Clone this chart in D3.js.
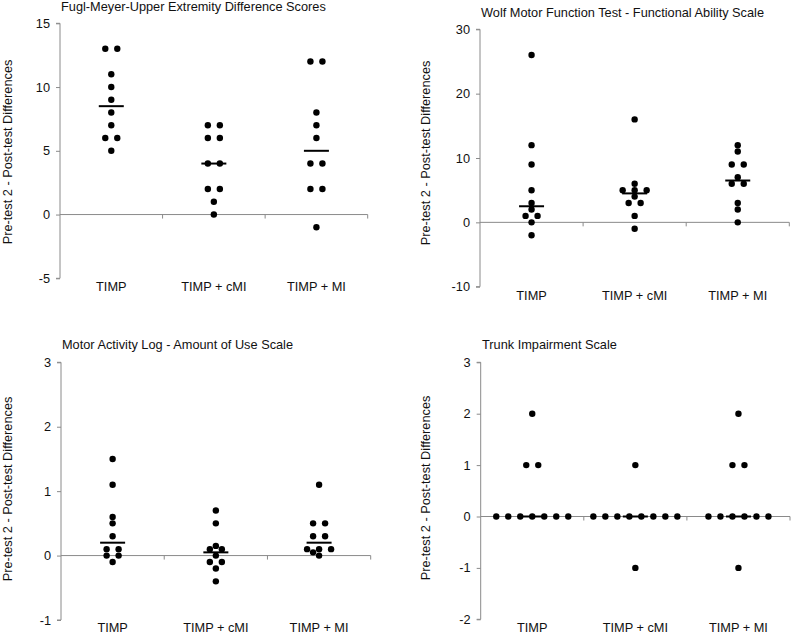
<!DOCTYPE html>
<html>
<head>
<meta charset="utf-8">
<script src="https://cdn.jsdelivr.net/npm/d3@7"></script>
<style>
  html, body { margin: 0; padding: 0; background: #fff; }
  svg { display: block; }
  text { font-family: "Liberation Sans", Arial, sans-serif; fill: #111; }
</style>
</head>
<body>
<svg id="chart" width="791" height="634"></svg>
<script>
// ---- Data ----
const groups = ["TIMP", "TIMP + cMI", "TIMP + MI"];
const yLabel = "Pre-test 2 - Post-test Differences";

const titles = [
  "Fugl-Meyer-Upper Extremity Difference Scores",
  "Wolf Motor Function Test - Functional Ability Scale",
  "Motor Activity Log - Amount of Use Scale",
  "Trunk Impairment Scale"
];

// Fugl-Meyer
const fmTIMP = [13, 13, 11, 10, 9, 8, 7, 6, 6, 5];
const fmCMI  = [7, 7, 6, 6, 4, 4, 2, 2, 1, 0];
const fmMI   = [12, 12, 8, 7, 6, 4, 4, 2, 2, -1];
const fmTicks = [-5, 0, 5, 10, 15];

// Wolf Motor Function Test
const wmTIMP = [26, 12, 9, 5, 3, 2, 1, 1, 0, -2];
const wmCMI  = [16, 6, 5, 5, 5, 4, 3, 3, 1, -1];
const wmMI   = [12, 11, 9, 9, 7, 6, 6, 3, 2, 0];
const wmTicks = [-10, 0, 10, 20, 30];

// Motor Activity Log
const malTIMP = [1.5, 1.1, 0.6, 0.5, 0.3, 0.1, 0.1, 0, 0, -0.1];
const malCMI  = [0.7, 0.5, 0.15, 0.1, 0.1, 0, -0.1, -0.1, -0.2, -0.4];
const malMI   = [1.1, 0.5, 0.5, 0.3, 0.3, 0.1, 0.1, 0.1, 0.05, 0];
const malTicks = [-1, 0, 1, 2, 3];

// Trunk Impairment Scale
const tisTIMP = [2, 1, 1, 0, 0, 0, 0, 0, 0, 0];
const tisCMI  = [1, 0, 0, 0, 0, 0, 0, 0, 0, -1];
const tisMI   = [2, 1, 1, 0, 0, 0, 0, 0, 0, -1];
const tisTicks = [-2, -1, 0, 1, 2, 3];

// ---- Layout (positions only) ----
const FS = 12.75;
const panels = [
  { title: titles[0], series: [fmTIMP, fmCMI, fmMI], ticks: fmTicks,
    x0: 60, x1: 367.7, yTop: 23.3, yBot: 278.3,
    titleX: 61, titleY: 10.5, catY: 291, labX: 7, labY: 152 },
  { title: titles[1], series: [wmTIMP, wmCMI, wmMI], ticks: wmTicks,
    x0: 480, x1: 789.3, yTop: 29.3, yBot: 286.7,
    titleX: 481, titleY: 17, catY: 299.5, labX: 425, labY: 153 },
  { title: titles[2], series: [malTIMP, malCMI, malMI], ticks: malTicks,
    x0: 61, x1: 370.7, yTop: 362.3, yBot: 620,
    titleX: 62, titleY: 349, catY: 631.5, labX: 7, labY: 489 },
  { title: titles[3], series: [tisTIMP, tisCMI, tisMI], ticks: tisTicks,
    x0: 480.7, x1: 790, yTop: 362.3, yBot: 619.3,
    titleX: 482, titleY: 349, catY: 631.5, labX: 425, labY: 488 }
];

const svg = d3.select("#chart");
const axisColor = "#8a8a8a";
const R = 3.2, SP = 12;

panels.forEach(p => {
  const g = svg.append("g");
  const ext = d3.extent(p.ticks);
  const y = d3.scaleLinear().domain(ext).range([p.yBot, p.yTop]);
  const x = d3.scaleBand().domain(groups).range([p.x0, p.x1]).padding(0);

  // Title
  g.append("text").attr("x", p.titleX).attr("y", p.titleY)
    .attr("font-size", FS).text(p.title);

  // Y label
  g.append("text")
    .attr("transform", `translate(${p.labX},${p.labY}) rotate(-90)`)
    .attr("text-anchor", "middle").attr("dominant-baseline", "central")
    .attr("font-size", FS).text(yLabel);

  // Y axis
  const yAxis = d3.axisLeft(y).tickValues(p.ticks).tickSize(4).tickPadding(6)
    .tickFormat(d => String(d));
  const ya = g.append("g").attr("transform", `translate(${p.x0},0)`).call(yAxis);
  ya.select(".domain").attr("stroke", axisColor).attr("d", `M-4,${y(ext[0])}H0V${y(ext[1])}H-4`);
  ya.selectAll(".tick line").attr("stroke", axisColor);
  ya.selectAll(".tick text").attr("font-size", FS).attr("font-family", "Liberation Sans, Arial, sans-serif").attr("fill", "#111");

  // X axis at zero
  const x0y = y(0);
  const xa = g.append("g").attr("transform", `translate(0,${x0y})`);
  xa.append("line").attr("x1", p.x0).attr("x2", p.x1).attr("y1", 0).attr("y2", 0)
    .attr("stroke", axisColor).attr("stroke-width", 1);
  groups.forEach((c, i) => {
    const bx = x(c) + x.bandwidth();
    xa.append("line").attr("x1", bx).attr("x2", bx).attr("y1", 0).attr("y2", 4)
      .attr("stroke", axisColor);
  });

  // Category labels
  groups.forEach(c => {
    g.append("text").attr("x", x(c) + x.bandwidth() / 2).attr("y", p.catY)
      .attr("text-anchor", "middle").attr("font-size", FS).text(c);
  });

  // Dots (simple beeswarm: ties spread symmetrically, then collision avoidance)
  p.series.forEach((vals, gi) => {
    const cx = x(groups[gi]) + x.bandwidth() / 2;
    const grouped = d3.groups(vals, v => v).sort((a, b) => b[0] - a[0]);
    const placed = [];
    grouped.forEach(([v, arr]) => {
      const n = arr.length;
      arr.forEach((_, i) => {
        const base = (i - (n - 1) / 2) * SP;
        const py = y(v);
        const ok = off => placed.every(q => Math.hypot(q.dx - off, q.py - py) >= 2 * R);
        let off = base;
        if (!ok(off)) {
          const cands = d3.range(-8, 9).map(k => k * SP / 2)
            .sort((a, b) => Math.abs(a - base) - Math.abs(b - base) || a - b);
          off = cands.find(ok);
        }
        placed.push({ dx: off, py });
      });
    });
    g.append("g").selectAll("circle").data(placed).join("circle")
      .attr("cx", d => cx + d.dx).attr("cy", d => d.py).attr("r", R).attr("fill", "#000");

    // Median line
    const med = d3.median(vals);
    g.append("line").attr("x1", cx - 12.5).attr("x2", cx + 12.5)
      .attr("y1", y(med)).attr("y2", y(med)).attr("stroke", "#000").attr("stroke-width", 2);
  });
});
</script>
</body>
</html>
